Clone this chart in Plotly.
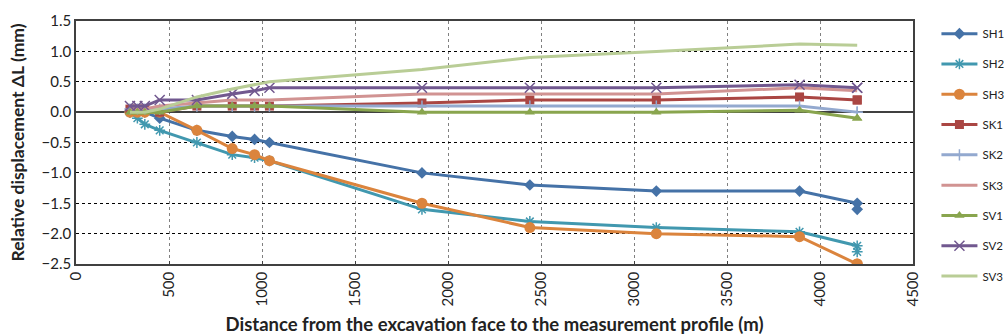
import plotly.graph_objects as go

distance = [290, 330, 370, 450, 650, 840, 960, 1040, 1860, 2440, 3120, 3890, 4200, 4200]

SH1 = [0.0, 0.0, 0.0, -0.1, -0.3, -0.4, -0.45, -0.5, -1.0, -1.2, -1.3, -1.3, -1.5, -1.6]
SH2 = [0.0, -0.1, -0.2, -0.3, -0.5, -0.7, -0.75, -0.8, -1.6, -1.8, -1.9, -1.97, -2.2, -2.3]
SH3 = [0.0, 0.0, 0.0, 0.0, -0.3, -0.6, -0.7, -0.8, -1.5, -1.9, -2.0, -2.05, -2.5, -2.5]
SK1 = [0.05, 0.05, 0.05, 0.0, 0.1, 0.1, 0.1, 0.1, 0.15, 0.2, 0.2, 0.25, 0.2, 0.2]
SK2 = [0.05, 0.05, 0.05, 0.05, 0.1, 0.1, 0.1, 0.1, 0.1, 0.1, 0.1, 0.1, 0.0, 0.0]
SK3 = [0.05, 0.05, 0.05, 0.1, 0.15, 0.2, 0.2, 0.2, 0.3, 0.3, 0.3, 0.4, 0.35, 0.35]
SV1 = [0.0, 0.0, 0.0, 0.0, 0.1, 0.1, 0.1, 0.1, 0.0, 0.0, 0.0, 0.03, -0.1, -0.1]
SV2 = [0.1, 0.1, 0.1, 0.2, 0.2, 0.3, 0.35, 0.4, 0.4, 0.4, 0.4, 0.45, 0.4, 0.4]
SV3 = [0.0, 0.0, 0.0, 0.05, 0.25, 0.38, 0.45, 0.5, 0.7, 0.9, 1.0, 1.12, 1.1, 1.1]

series_names = ["SH1", "SH2", "SH3", "SK1", "SK2", "SK3", "SV1", "SV2", "SV3"]
series_values = [SH1, SH2, SH3, SK1, SK2, SK3, SV1, SV2, SV3]
colors = ["#4572A7", "#4198AF", "#DB843D", "#AA4643", "#93A9CF",
          "#D19392", "#89A54E", "#71588F", "#B9CD96"]
symbols = ["diamond", "asterisk-open", "circle", "square", "cross-thin-open",
           None, "triangle-up", "x-thin-open", None]
sizes = [9, 9, 11, 9, 8, 0, 9, 10, 0]

fig = go.Figure()
for name, vals, col, sym, sz in zip(series_names, series_values, colors, symbols, sizes):
    if sym is None:
        fig.add_trace(go.Scatter(x=distance, y=vals, name=name, mode="lines",
                                 line=dict(color=col, width=3),
                                 legendgroup=name))
    else:
        mk = dict(symbol=sym, size=sz, color=col)
        if sym.endswith("open"):
            mk["line"] = dict(color=col, width=1.5)
        fig.add_trace(go.Scatter(x=distance, y=vals, name=name, mode="lines+markers",
                                 line=dict(color=col, width=3), marker=mk,
                                 legendgroup=name))

fig.update_layout(
    width=1007, height=336,
    margin=dict(l=76, r=94, t=21, b=72, autoexpand=False),
    paper_bgcolor="white", plot_bgcolor="white",
    font=dict(family="Lato, Open Sans, sans-serif", color="#222222", size=15),
    legend=dict(x=1.028, xanchor="left", yref="container", y=0.943, yanchor="top",
                font=dict(size=11.5, color="#222222"),
                tracegroupgap=11.3, itemwidth=36, maxheight=320,
                borderwidth=0,
                bgcolor="rgba(0,0,0,0)"),
    showlegend=True,
)

fig.update_xaxes(
    range=[0, 4500], dtick=500, tick0=0, tickangle=-90,
    showgrid=True, gridcolor="#808080", griddash="3px,3px", gridwidth=1,
    showline=True, linecolor="#404040", linewidth=1.5, mirror=True,
    ticks="inside", ticklen=3, tickcolor="#404040",
    zeroline=False,
    title=dict(text="<b>Distance from the excavation face to the measurement profile (m)</b>",
               font=dict(size=18.5, color="#222222"), standoff=12),
    tickfont=dict(size=15),
)
fig.update_yaxes(
    range=[-2.5, 1.5], dtick=0.5, tick0=0, tickformat=".1f",
    showgrid=True, gridcolor="#000000", griddash="3px,3px", gridwidth=1,
    showline=True, linecolor="#404040", linewidth=1.5, mirror=True,
    zeroline=True, zerolinecolor="#404040", zerolinewidth=1.5,
    title=dict(text="<b>Relative displacement ΔL (mm)</b>",
               font=dict(size=17.5, color="#222222"), standoff=12),
    tickfont=dict(size=15),
)

fig.write_html("out.html")
